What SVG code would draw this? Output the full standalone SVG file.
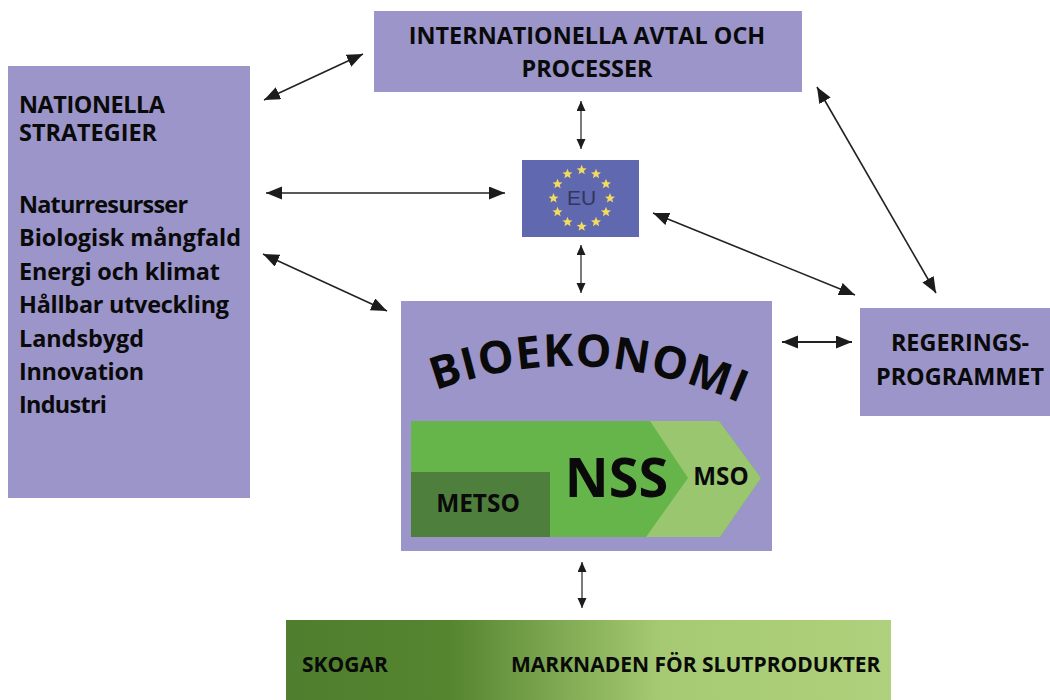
<svg xmlns="http://www.w3.org/2000/svg" xmlns:xlink="http://www.w3.org/1999/xlink" width="1050" height="700" viewBox="0 0 1050 700">
<style>
.box{fill:#9b95c9}
text{font-family:"Open Sans","Noto Sans","Liberation Sans",sans-serif;font-weight:700;fill:#0a0a0a}
.t{font-size:23.4px}
.c{fill:none;stroke:#222;stroke-width:1.6;marker-start:url(#a);marker-end:url(#a)}
.v{fill:none;stroke:#222;stroke-width:1.2;marker-start:url(#b);marker-end:url(#b)}
.star{fill:#f2dc5d}
</style>
<defs>
<marker id="a" markerUnits="userSpaceOnUse" markerWidth="18" markerHeight="14" refX="16" refY="6.5" orient="auto-start-reverse"><path d="M0 0L16 6.5L0 13Z" fill="#1c1c1c"/></marker>
<marker id="b" markerUnits="userSpaceOnUse" markerWidth="12" markerHeight="10" refX="10" refY="4.5" orient="auto-start-reverse"><path d="M0 0L10 4.5L0 9Z" fill="#1c1c1c"/></marker>
<linearGradient id="g" x1="0" x2="1" y1="0" y2="0"><stop offset="0" stop-color="#4f7f2e"/><stop offset=".27" stop-color="#55852f"/><stop offset=".62" stop-color="#a6ca73"/><stop offset="1" stop-color="#afd07c"/></linearGradient>
<polygon id="s" class="star" points="0,-5.2 1.4,-1.7 5,-1.6 2.2,.7 3.1,4.2 0,2.2 -3.1,4.2 -2.2,.7 -5,-1.6 -1.4,-1.7"/>
<path id="arc" d="M421 396Q585 330 755 410"/>
</defs>
<rect width="1050" height="700" fill="#fff"/>
<g id="connectors">
<line class="c" x1="264" y1="100" x2="363" y2="54"/>
<line class="c" x1="266" y1="193" x2="505" y2="193"/>
<line class="c" x1="263" y1="254" x2="387" y2="311"/>
<line class="c" x1="817" y1="87" x2="936" y2="293"/>
<line class="c" x1="653" y1="213" x2="855" y2="295"/>
<line class="c" x1="782" y1="342" x2="852" y2="342" style="stroke-width:2.2"/>
<line class="v" x1="581" y1="101" x2="581" y2="149"/>
<line class="v" x1="581" y1="245" x2="581" y2="293"/>
<line class="v" x1="582" y1="562" x2="582" y2="608"/>
</g>
<g id="nationella">
<rect class="box" x="8" y="66" width="242" height="432"/>
<text class="t" x="19" y="113" textLength="146">NATIONELLA</text>
<text class="t" x="19" y="141" textLength="138">STRATEGIER</text>
<text class="t" x="19" y="213" textLength="169">Naturresursser</text>
<text class="t" x="19" y="246" textLength="222">Biologisk mångfald</text>
<text class="t" x="19" y="280" textLength="201">Energi och klimat</text>
<text class="t" x="19" y="313" textLength="210">Hållbar utveckling</text>
<text class="t" x="19" y="347" textLength="125">Landsbygd</text>
<text class="t" x="19" y="380" textLength="125">Innovation</text>
<text class="t" x="19" y="413" textLength="88">Industri</text>
</g>
<g id="internationella">
<rect class="box" x="374" y="11" width="428" height="81"/>
<text class="t" x="587" y="44" text-anchor="middle">INTERNATIONELLA AVTAL OCH</text>
<text class="t" x="587" y="77" text-anchor="middle">PROCESSER</text>
</g>
<g id="eu">
<rect x="522" y="160" width="117" height="77" fill="#6068b0"/>
<text x="581.5" y="205" text-anchor="middle" style="font-family:'Liberation Sans',sans-serif;font-weight:400;font-size:21px;fill:#33365f">EU</text>
<use xlink:href="#s" x="581.7" y="170"/><use xlink:href="#s" x="596" y="174"/><use xlink:href="#s" x="606" y="184"/><use xlink:href="#s" x="610" y="198.3"/><use xlink:href="#s" x="606" y="212"/><use xlink:href="#s" x="596" y="222"/><use xlink:href="#s" x="581.7" y="226.5"/><use xlink:href="#s" x="567.5" y="222"/><use xlink:href="#s" x="557.5" y="212"/><use xlink:href="#s" x="553.5" y="198.3"/><use xlink:href="#s" x="557.5" y="184"/><use xlink:href="#s" x="567.5" y="174"/>
</g>
<g id="bioekonomi">
<rect class="box" x="401" y="301" width="371" height="250"/>
<text style="font-size:45px;font-weight:700;letter-spacing:1.2px"><textPath xlink:href="#arc" startOffset="50%" text-anchor="middle">BIOEKONOMI</textPath></text>
<polygon points="411,421 719,421 761,478 720,537 411,537" fill="#65b54a"/>
<polygon points="650,421 719,421 761,478 720,537 646,537 688,478" fill="#99c66f"/>
<rect x="411" y="472" width="139" height="65" fill="#4f7f3d"/>
<text x="478" y="512" text-anchor="middle" style="font-size:24.4px">METSO</text>
<text x="616.5" y="497" text-anchor="middle" style="font-size:54px">NSS</text>
<text x="721" y="485" text-anchor="middle" style="font-size:24.2px">MSO</text>
</g>
<g id="regering">
<rect class="box" x="860" y="308" width="190" height="108"/>
<text class="t" x="960" y="351" text-anchor="middle">REGERINGS-</text>
<text class="t" x="960" y="385" text-anchor="middle">PROGRAMMET</text>
</g>
<g id="skogar">
<rect x="286" y="620" width="605" height="80" fill="url(#g)"/>
<text x="302" y="672" style="font-size:21px">SKOGAR</text>
<text x="511" y="672" style="font-size:21px">MARKNADEN FÖR SLUTPRODUKTER</text>
</g>
</svg>
